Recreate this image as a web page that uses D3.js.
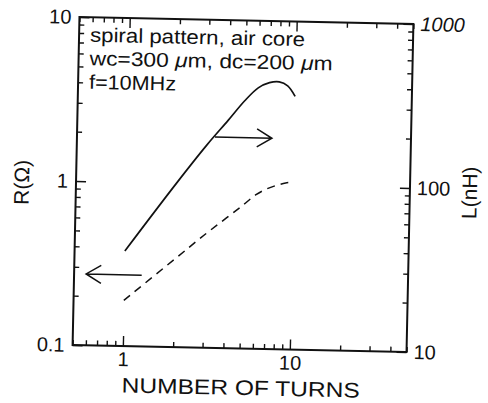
<!DOCTYPE html>
<html lang="en">
<head>
<meta charset="UTF-8">
<title>Spiral pattern: R and L vs number of turns</title>
<script src="https://d3js.org/d3.v7.min.js"></script>
<style>
  body { margin: 0; background: #fff; }
  svg text { font-family: "Liberation Sans", Arial, sans-serif; fill: #111; }
</style>
</head>
<body>
<div id="chart"></div>
<script>
// number of turns, shared by both curves
const turns = [1, 2, 3, 4, 5, 6, 7, 8, 9, 10];
// inductance in nH (solid line, read on the right axis)
const inductance = [38, 100, 172, 245, 324, 390, 421, 427, 405, 350];
// resistance in ohm (dashed line, read on the left axis)
const resistance = [0.19, 0.345, 0.49, 0.62, 0.745, 0.87, 0.95, 1.0, 1.035, 1.05];

const xTicks = [1, 10];
const rTicks = [0.1, 1, 10];
const lTicks = [10, 100, 1000];
const noteLines = ["spiral pattern, air core", "wc=300 \u03bcm, dc=200 \u03bcm", "f=10MHz"];
const noteWidths = [215, 243, 87];

// arrows telling which axis a curve belongs to: [turns, value]
const arrowL = { from: [3.35, 193], to: [7.35, 193] };
const arrowR = { from: [1.27, 0.272], to: [0.59, 0.272] };

const width = 488, height = 403;
const margin = { top: 20.5, right: 78, bottom: 54.5, left: 76 };

const x = d3.scaleLog().domain([0.5, 50]).range([margin.left, width - margin.right]);
const yR = d3.scaleLog().domain([0.1, 10]).range([height - margin.bottom, margin.top]);
const yL = d3.scaleLog().domain([10, 1000]).range([height - margin.bottom, margin.top]);

const svg = d3.select("#chart").append("svg")
    .attr("width", width)
    .attr("height", height);

// the scanned figure sits slightly rotated on the page
const g = svg.append("g").attr("transform", "rotate(1.2,243,184.5)");

const fmt = d => String(d);
const minorOf = (scale, majors) => scale.ticks().filter(t => !majors.some(m => Math.abs(m - t) < 1e-9));

const bottomY = height - margin.bottom, rightX = width - margin.right;

function styleAxis(sel) {
    sel.select(".domain").remove();
    sel.selectAll("line").attr("stroke", "#111").attr("stroke-width", 1.4);
    sel.selectAll("text").attr("font-size", 20).attr("fill", "#111");
}

// bottom axis
g.append("g").attr("transform", `translate(0,${bottomY})`)
    .call(d3.axisBottom(x).tickValues(xTicks).tickSize(-10).tickPadding(6).tickFormat(fmt))
    .call(styleAxis);
g.append("g").attr("transform", `translate(0,${bottomY})`)
    .call(d3.axisBottom(x).tickValues(minorOf(x, xTicks)).tickSize(-5).tickFormat(""))
    .call(styleAxis);
// top axis, ticks only
g.append("g").attr("transform", `translate(0,${margin.top})`)
    .call(d3.axisTop(x).tickValues(xTicks).tickSize(-10).tickFormat(""))
    .call(styleAxis);
g.append("g").attr("transform", `translate(0,${margin.top})`)
    .call(d3.axisTop(x).tickValues(minorOf(x, xTicks)).tickSize(-5).tickFormat(""))
    .call(styleAxis);

// left axis (R)
g.append("g").attr("transform", `translate(${margin.left},0)`)
    .call(d3.axisLeft(yR).tickValues(rTicks).tickSize(-10).tickPadding(8).tickFormat(fmt))
    .call(styleAxis);
g.append("g").attr("transform", `translate(${margin.left},0)`)
    .call(d3.axisLeft(yR).tickValues(minorOf(yR, rTicks)).tickSize(-5).tickFormat(""))
    .call(styleAxis);

// right axis (L)
const rightAx = g.append("g").attr("transform", `translate(${rightX},0)`)
    .call(d3.axisRight(yL).tickValues(lTicks).tickSize(-10).tickPadding(7).tickFormat(fmt))
    .call(styleAxis);
rightAx.selectAll(".tick text").filter(d => d === 1000).attr("font-style", "italic");
g.append("g").attr("transform", `translate(${rightX},0)`)
    .call(d3.axisRight(yL).tickValues(minorOf(yL, lTicks)).tickSize(-5).tickFormat(""))
    .call(styleAxis);

// frame
g.append("rect")
    .attr("x", margin.left).attr("y", margin.top)
    .attr("width", rightX - margin.left).attr("height", bottomY - margin.top)
    .attr("fill", "none").attr("stroke", "#111").attr("stroke-width", 2);

// curves
const lineL = d3.line().x((d, i) => x(turns[i])).y(d => yL(d)).curve(d3.curveCatmullRom);
const lineR = d3.line().x((d, i) => x(turns[i])).y(d => yR(d)).curve(d3.curveCatmullRom);

g.append("path").datum(inductance)
    .attr("d", lineL)
    .attr("fill", "none").attr("stroke", "#111").attr("stroke-width", 1.7);

g.append("path").datum(resistance)
    .attr("d", lineR)
    .attr("fill", "none").attr("stroke", "#111").attr("stroke-width", 1.5)
    .attr("stroke-dasharray", "8,6");

// arrows
function arrow(a, yScale) {
    const x0 = x(a.from[0]), y0 = yScale(a.from[1]);
    const x1 = x(a.to[0]), y1 = yScale(a.to[1]);
    const dir = Math.sign(x1 - x0);
    g.append("path")
        .attr("d", `M${x0},${y0}L${x1},${y1}M${x1 - dir * 15},${y1 - 9}L${x1},${y1}L${x1 - dir * 15},${y1 + 9}`)
        .attr("fill", "none").attr("stroke", "#111").attr("stroke-width", 1.5);
}
arrow(arrowL, yL);
arrow(arrowR, yR);

// note in the top-left corner
noteLines.forEach((line, i) => {
    const t = g.append("text")
        .attr("x", 87).attr("y", 45 + i * 23.5)
        .attr("font-size", 20)
        .attr("textLength", noteWidths[i])
        .attr("lengthAdjust", "spacingAndGlyphs");
    line.split(/(\u03bc)/).forEach(part => {
        if (!part) return;
        const s = t.append("tspan").text(part);
        if (part === "\u03bc") s.attr("font-style", "italic");
    });
});

// axis titles
g.append("text")
    .attr("x", 245).attr("y", 395)
    .attr("text-anchor", "middle")
    .attr("font-size", 21)
    .attr("textLength", 238).attr("lengthAdjust", "spacingAndGlyphs")
    .text("NUMBER OF TURNS");

g.append("text")
    .attr("transform", "translate(29,187) rotate(-90)")
    .attr("text-anchor", "middle")
    .attr("font-size", 21)
    .text("R(\u03a9)");

g.append("text")
    .attr("transform", "translate(477,188) rotate(-90)")
    .attr("text-anchor", "middle")
    .attr("font-size", 21)
    .text("L(nH)");
</script>
</body>
</html>
